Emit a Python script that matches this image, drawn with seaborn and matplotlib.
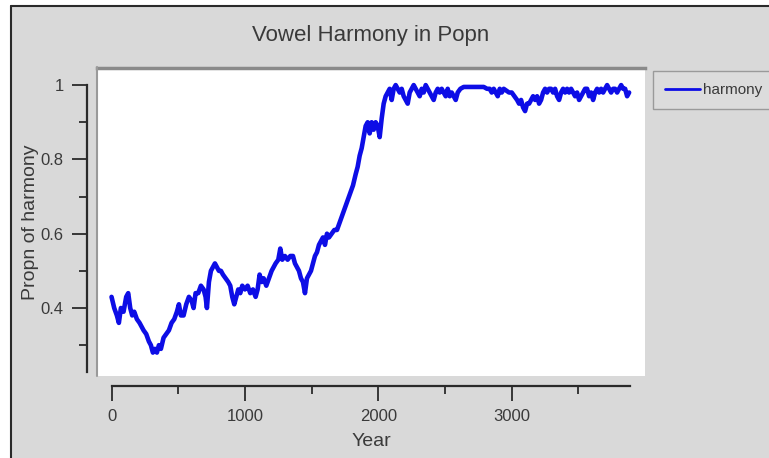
import matplotlib
matplotlib.use("Agg")
import matplotlib.pyplot as plt
import seaborn as sns
import pandas as pd
from matplotlib.lines import Line2D
from matplotlib.patches import Rectangle

# ---- data ----
year = [
    0, 20, 40, 55, 70, 90, 110, 125, 140, 155,
    170, 190, 210, 225, 240, 260, 280, 295, 310, 325,
    340, 355, 370, 390, 410, 430, 450, 470, 490, 505,
    520, 540, 560, 580, 600, 615, 630, 650, 670, 690,
    705, 715, 730, 745, 760, 775, 790, 805, 820, 835,
    855, 875, 890, 905, 920, 935, 950, 965, 980, 1000,
    1020, 1040, 1060, 1080, 1095, 1110, 1125, 1140, 1160, 1180,
    1200, 1215, 1230, 1250, 1265, 1280, 1300, 1320, 1340, 1360,
    1375, 1390, 1405, 1420, 1435, 1450, 1465, 1480, 1495, 1510,
    1525, 1540, 1555, 1570, 1585, 1600, 1615, 1630, 1650, 1670,
    1690, 1710, 1730, 1750, 1770, 1790, 1810, 1830, 1845, 1860,
    1875, 1890, 1905, 1920, 1935, 1950, 1965, 1980, 1995, 2010,
    2025, 2040, 2055, 2070, 2085, 2100, 2115, 2130, 2145, 2160,
    2175, 2190, 2205, 2220, 2235, 2250, 2265, 2280, 2295, 2310,
    2325, 2340, 2355, 2370, 2385, 2400, 2415, 2430, 2445, 2460,
    2475, 2490, 2505, 2520, 2535, 2550, 2565, 2580, 2595, 2615,
    2640, 2670, 2700, 2730, 2760, 2790, 2815, 2835, 2850, 2865,
    2880, 2895, 2910, 2925, 2940, 2960, 2980, 3000, 3020, 3040,
    3055, 3070, 3085, 3100, 3115, 3130, 3145, 3160, 3175, 3190,
    3205, 3220, 3235, 3250, 3265, 3280, 3295, 3310, 3325, 3340,
    3355, 3370, 3385, 3400, 3415, 3430, 3445, 3460, 3475, 3490,
    3505, 3520, 3535, 3550, 3565, 3580, 3595, 3610, 3625, 3640,
    3655, 3670, 3685, 3700, 3715, 3730, 3745, 3760, 3775, 3790,
    3805, 3820, 3835, 3850, 3865, 3880,
]
harmony = [
    .43, .40, .38, .36, .40, .39, .43, .44, .40, .38,
    .39, .37, .36, .35, .34, .33, .31, .30, .28, .29,
    .28, .30, .29, .32, .33, .34, .36, .37, .39, .41,
    .38, .38, .41, .43, .42, .40, .44, .44, .46, .45,
    .43, .40, .47, .50, .51, .52, .51, .50, .50, .49,
    .48, .47, .46, .43, .41, .43, .45, .44, .46, .45,
    .46, .44, .45, .43, .45, .49, .47, .48, .46, .48,
    .50, .51, .52, .53, .56, .53, .54, .53, .54, .54,
    .52, .51, .50, .48, .47, .44, .48, .49, .50, .52,
    .54, .55, .57, .58, .59, .57, .60, .59, .60, .61,
    .61, .63, .65, .67, .69, .71, .73, .76, .78, .81,
    .83, .86, .89, .90, .87, .90, .88, .90, .89, .86,
    .91, .95, .97, .98, .99, .96, .99, 1.00, .99, .98,
    .99, .97, .96, .95, .98, .99, 1.00, .99, .98, .97,
    .99, .98, 1.00, .99, .98, .97, .96, .98, .99, .98,
    .99, .98, .97, .99, .97, .98, .97, .96, .98, .99,
    .995, .995, .995, .995, .995, .995, .99, .99, .98, .99,
    .98, .97, .99, .98, .99, .985, .98, .98, .97, .96,
    .95, .96, .94, .93, .95, .95, .96, .97, .96, .97,
    .95, .96, .98, .99, .98, .99, .99, .98, .99, .97,
    .96, .98, .99, .98, .99, .98, .99, .98, .97, .98,
    .96, .97, .98, .99, .99, .97, .98, .96, .98, .99,
    .98, .99, .98, .99, 1.00, .99, .98, .99, .99, .98,
    .99, 1.00, .99, .99, .97, .98,
]
x_major = [0, 1000, 2000, 3000]
x_minor = [500, 1500, 2500, 3500]
y_major = [0.4, 0.6, 0.8, 1.0]
y_major_labels = ["0.4", "0.6", "0.8", "1"]
y_minor = [0.3, 0.5, 0.7, 0.9]

title = "Vowel Harmony in Popn"
xlabel = "Year"
ylabel = "Propn of harmony"
series_name = "harmony"

# ---- style ----
sns.set_theme(style="white")
plt.rcParams['font.family'] = ['Liberation Sans', 'DejaVu Sans']

W, H = 769, 458
fig = plt.figure(figsize=(W / 100, H / 100), dpi=100, facecolor="white")
BG = "#d9d9d9"
TXT = "#3a3a3a"

# window panel with dark top/left border
fig.add_artist(Rectangle((11 / W, 0), 1, (H - 6) / H, transform=fig.transFigure,
                         facecolor=BG, edgecolor="none", zorder=-10))
fig.add_artist(Line2D([11 / W, 11 / W], [0, (H - 6) / H], transform=fig.transFigure,
                      color="#2a2a2a", lw=1.5))
fig.add_artist(Line2D([11 / W, 1], [(H - 6) / H, (H - 6) / H], transform=fig.transFigure,
                      color="#2a2a2a", lw=1.5))

ax = fig.add_axes([97 / W, (H - 376) / H, 548 / W, 308 / H])
ax.set_facecolor("white")

df = pd.DataFrame({"Year": year, "harmony": harmony})
sns.lineplot(data=df, x="Year", y="harmony", ax=ax, color="#0d0de6",
             lw=3.3, label=series_name)

ax.set_xlim(-109, 3999)
ax.set_ylim(0.217, 1.046)

# sunken frame of plotting area
ax.spines["right"].set_visible(False)
ax.spines["top"].set_color("#8a8a8a")
ax.spines["top"].set_linewidth(2.5)
fig.add_artist(Line2D([97 / W, 97 / W], [(H - 376) / H, (H - 67) / H],
                      transform=fig.transFigure, color="#9a9a9a", lw=1.5))

for side, bounds in (("left", (0.228, 1.0)), ("bottom", (0, 3890))):
    sp = ax.spines[side]
    sp.set_visible(True)
    sp.set_position(("outward", 7))
    sp.set_bounds(*bounds)
    sp.set_color("#2a2a2a")
    sp.set_linewidth(1.6)

ax.set_xticks(x_major)
ax.set_xticks(x_minor, minor=True)
ax.set_yticks(y_major)
ax.set_yticklabels(y_major_labels)
ax.set_yticks(y_minor, minor=True)
ax.tick_params(which="both", bottom=True, left=True, direction="out",
               color="#2a2a2a", width=1.3)
ax.tick_params(which="major", length=11, labelsize=12, labelcolor=TXT, pad=6)
ax.tick_params(which="minor", length=6)

ax.set_xlabel(xlabel, fontsize=14, color=TXT, labelpad=6)
ax.set_ylabel(ylabel, fontsize=14, color=TXT, labelpad=1)

fig.text(371 / W, 1 - 36 / H, title, ha="center", va="center",
         fontsize=16, color=TXT)

leg = ax.legend(loc="upper left", bbox_to_anchor=(653 / W, 1 - 71 / H),
                bbox_transform=fig.transFigure, frameon=True, fancybox=False,
                facecolor="#dedede", edgecolor="#8a8a8a", fontsize=11,
                handlelength=2.3, handletextpad=0.15, borderpad=0.8,
                borderaxespad=0)
for t in leg.get_texts():
    t.set_color(TXT)
for h in leg.get_lines():
    h.set_linewidth(2)

fig.savefig("out.png", dpi=100, facecolor=fig.get_facecolor())
